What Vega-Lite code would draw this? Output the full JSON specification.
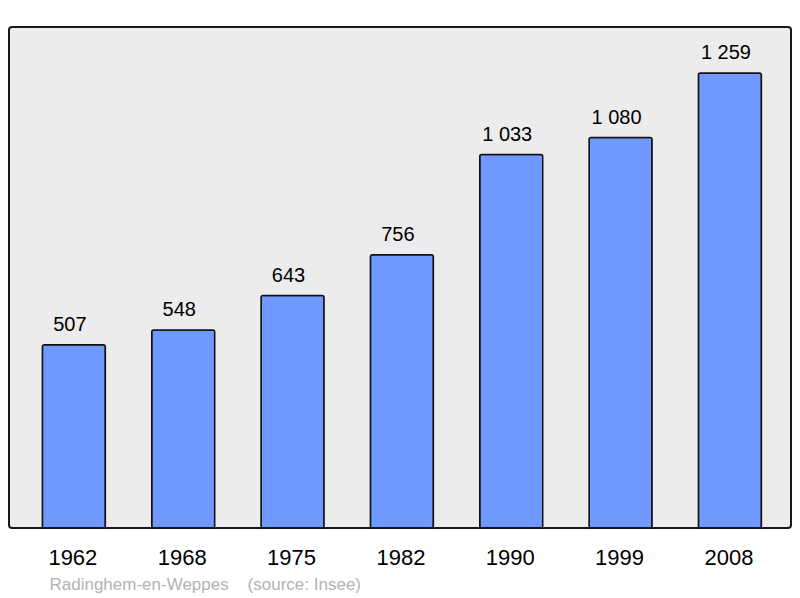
{
  "$schema": "https://vega.github.io/schema/vega-lite/v6.json",
  "width": 782,
  "height": 501,
  "autosize": {"type": "none"},
  "padding": {"left": 9, "top": 27, "right": 9, "bottom": 70},
  "background": "white",
  "config": {
    "view": {"fill": "#ececec", "stroke": "#1a1a1a", "strokeWidth": 2, "cornerRadius": 3},
    "font": "Liberation Sans"
  },
  "data": {
    "values": [
      {"year": "1962", "pop": 507, "label": "507"},
      {"year": "1968", "pop": 548, "label": "548"},
      {"year": "1975", "pop": 643, "label": "643"},
      {"year": "1982", "pop": 756, "label": "756"},
      {"year": "1990", "pop": 1033, "label": "1 033"},
      {"year": "1999", "pop": 1080, "label": "1 080"},
      {"year": "2008", "pop": 1259, "label": "1 259"}
    ]
  },
  "encoding": {
    "x": {
      "field": "year",
      "type": "ordinal",
      "scale": {"paddingInner": 0.424, "paddingOuter": 0.288, "align": 0.53},
      "axis": {
        "title": "Radinghem-en-Weppes\u00a0\u00a0\u00a0\u00a0(source: Insee)",
        "titleFont": "Liberation Sans",
        "titleFontSize": 17,
        "titleFontWeight": "normal",
        "titleColor": "#b3b3b3",
        "titleAnchor": "start",
        "titleAlign": "left",
        "titleBaseline": "alphabetic",
        "titleX": 40,
        "titleY": 61,
        "labelAngle": 0,
        "labelFontSize": 22,
        "labelColor": "black",
        "labelBaseline": "alphabetic",
        "labelPadding": 36,
        "labelOffset": -1,
        "ticks": false,
        "tickSize": 0,
        "domain": false,
        "grid": false
      }
    },
    "y": {
      "field": "pop",
      "type": "quantitative",
      "scale": {"domain": [0, 1386], "nice": false},
      "axis": null
    }
  },
  "layer": [
    {
      "mark": {"type": "bar", "color": "#7099ff", "stroke": "#111111", "strokeWidth": 1.5, "cornerRadius": 2}
    },
    {
      "mark": {"type": "text", "dy": -14, "dx": -4, "baseline": "alphabetic", "fontSize": 20, "color": "black", "font": "Liberation Sans"},
      "encoding": {"text": {"field": "label"}}
    }
  ]
}
